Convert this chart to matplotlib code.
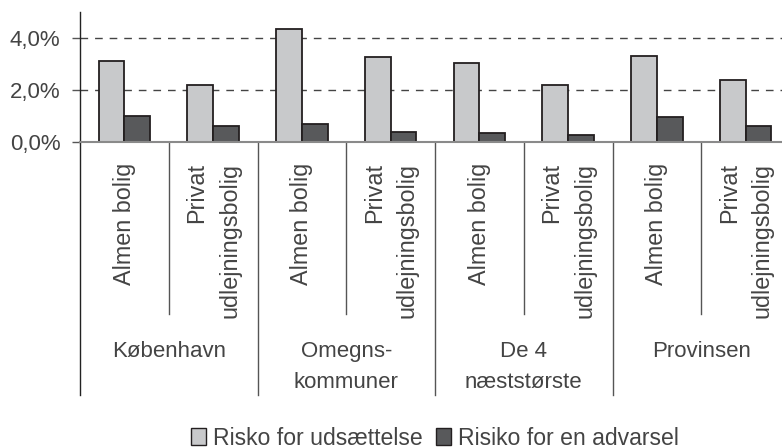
import matplotlib.pyplot as plt
import matplotlib.patches as mpatches
from matplotlib.ticker import FuncFormatter
import numpy as np

plt.rcParams['font.family'] = ['Liberation Sans', 'DejaVu Sans']

# data (percent)
regions = ['København', 'Omegns-\nkommuner', 'De 4\nnæststørste', 'Provinsen']
housing = ['Almen bolig', 'Privat\nudlejningsbolig']
udsaettelse = [3.1, 2.2, 4.35, 3.25, 3.05, 2.2, 3.3, 2.4]
advarsel = [1.0, 0.6, 0.7, 0.4, 0.35, 0.25, 0.95, 0.6]
series_names = ['Risko for udsættelse', 'Risiko for en advarsel']
yticks = [0, 2, 4]

light = '#c8c9cb'
dark = '#58595b'
edge = '#231f20'
txt = '#444444'

fig = plt.figure(figsize=(7.82, 4.48), dpi=100)
ax = fig.add_axes([80 / 782, 1 - 142 / 448, 710 / 782, 130 / 448])

x = np.arange(len(udsaettelse))
w = 0.29
ax.bar(x - w / 2, udsaettelse, w, color=light, edgecolor=edge, linewidth=1.3, zorder=3)
ax.bar(x + w / 2, advarsel, w, color=dark, edgecolor=edge, linewidth=1.3, zorder=3)

ax.set_xlim(-0.5, len(x) - 0.5)
ax.set_ylim(0, 5)
ax.set_yticks(yticks)
ax.yaxis.set_major_formatter(FuncFormatter(lambda v, p: f'{v:.1f}%'.replace('.', ',')))
ax.tick_params(axis='y', length=6, width=1, color='#555555', pad=8, labelsize=16, labelcolor=txt)
ax.set_xticks([])
for v in yticks[1:]:
    ax.axhline(v, color='#444444', lw=1, dashes=(5.5, 5), zorder=1)

for s in ['top', 'right']:
    ax.spines[s].set_visible(False)
ax.spines['bottom'].set_color('#8a8a8a')
ax.spines['bottom'].set_linewidth(1.5)
ax.spines['bottom'].set_zorder(4)
ax.spines['left'].set_color('#222222')
ax.spines['left'].set_linewidth(1)

# separators and labels below the axis
trans = ax.get_xaxis_transform()
inner_bottom = -172 / 130
group_bottom = -253 / 130
ax.plot([-0.5, -0.5], [0, group_bottom], transform=trans, color='#222222', lw=1, clip_on=False)
for i in range(1, len(x)):
    bottom = group_bottom if i % 2 == 0 else inner_bottom
    ax.plot([i - 0.5, i - 0.5], [0, bottom], transform=trans, color='#555555', lw=1, clip_on=False)

for i in x:
    ax.text(i, -21 / 130, housing[i % 2], transform=trans, rotation=90, ha='center', va='top',
            multialignment='right', fontsize=16.8, color=txt, linespacing=1.55)

for g, name in enumerate(regions):
    ax.text(2 * g + 0.5, -199 / 130, name, transform=trans, ha='center', va='top',
            fontsize=16, color=txt, linespacing=1.6)

handles = [mpatches.Patch(facecolor=light, edgecolor=edge, linewidth=1),
           mpatches.Patch(facecolor=dark, edgecolor=edge, linewidth=1)]
fig.legend(handles, series_names, loc='center', bbox_to_anchor=(435 / 782, 1 - 438 / 448),
           ncol=2, frameon=False, fontsize=16.6, labelcolor=txt, handlelength=0.65, handleheight=0.75,
           handletextpad=0.3, columnspacing=0.6, borderpad=0)

fig.savefig('out.png', dpi=100)
